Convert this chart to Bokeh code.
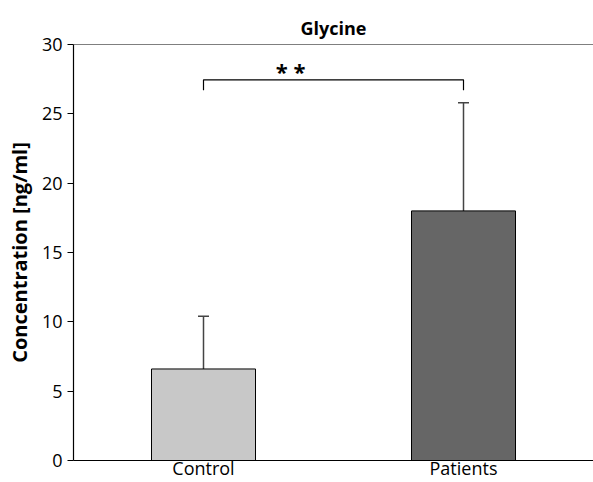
from bokeh.plotting import figure
from bokeh.models import ColumnDataSource, Whisker, TeeHead, Span, FactorRange, Range1d
from bokeh.transform import dodge
from bokeh.core.properties import value
from bokeh.embed import file_html
from bokeh.resources import INLINE

categories = ["Control", "Patients"]
means = [6.6, 18.0]
sd_upper = [10.4, 25.8]
colors = ["#c8c8c8", "#666666"]
y_ticks = [0, 5, 10, 15, 20, 25, 30]
sig_label = "* *"
bracket_y = 27.45
bracket_drop = 26.7

FONT = "Open Sans"

src = ColumnDataSource(dict(cat=categories, mean=means, up=sd_upper, color=colors))

p = figure(x_range=FactorRange(*categories), y_range=Range1d(0, 30),
           width=593, height=482, output_backend="svg", toolbar_location=None,
           title="Glycine", min_border_left=73, min_border_right=0,
           min_border_top=44, min_border_bottom=22)

p.title.align = "center"
p.title.text_font = FONT
p.title.text_font_size = "18px"
p.title.text_font_style = "bold"
p.title.text_color = "black"

p.outline_line_color = None
p.grid.grid_line_color = None
p.background_fill_color = "white"
p.border_fill_color = "white"

# error bars (upward only)
w = Whisker(source=src, base="cat", lower="mean", upper="up",
            line_color="#444444", line_width=1.5,
            upper_head=TeeHead(size=11, line_color="#444444", line_width=1.5),
            lower_head=None)
p.add_layout(w)

p.vbar(x="cat", top="mean", width=0.4, source=src, fill_color="color",
       line_color="black", line_width=1)

# significance bracket
p.multi_line(xs=[[categories[0], categories[0], categories[1], categories[1]]],
             ys=[[bracket_drop, bracket_y, bracket_y, bracket_drop]],
             line_color="black", line_width=1.2)
star_src = ColumnDataSource(dict(x=[categories[0]], y=[bracket_y], t=[sig_label]))
p.text(x=dodge("x", 0.335, range=p.x_range), y="y", text="t", source=star_src,
       text_font=value(FONT), text_font_size="22px", text_font_style="bold",
       text_align="center", text_baseline="bottom", y_offset=6, text_color="black")

# top border line
p.add_layout(Span(location=30, dimension="width", line_color="black", line_width=1))

# axes
p.yaxis.ticker = y_ticks
p.yaxis.axis_label = "Concentration [ng/ml]"
p.yaxis.axis_label_text_font = FONT
p.yaxis.axis_label_text_font_size = "20px"
p.yaxis.axis_label_text_font_style = "bold"
p.yaxis.axis_label_text_color = "black"
p.yaxis.major_label_text_font = FONT
p.yaxis.major_label_text_font_size = "18px"
p.yaxis.major_label_text_color = "black"
p.yaxis.minor_tick_line_color = None
p.yaxis.major_tick_line_color = "black"
p.yaxis.major_tick_in = 0
p.yaxis.major_tick_out = 6
p.yaxis.major_label_standoff = 5
p.yaxis.axis_label_standoff = 6

p.xaxis.major_tick_line_color = None
p.xaxis.major_tick_in = 0
p.xaxis.major_tick_out = 0
p.xaxis.major_label_text_font = FONT
p.xaxis.major_label_text_font_size = "18px"
p.xaxis.major_label_text_color = "black"
p.xaxis.major_label_standoff = -5

for ax in (p.xaxis, p.yaxis):
    ax.axis_line_color = "black"
    ax.axis_line_width = 1.2

p.x_range.range_padding = 0

open("out.html", "w").write(file_html(p, INLINE))
